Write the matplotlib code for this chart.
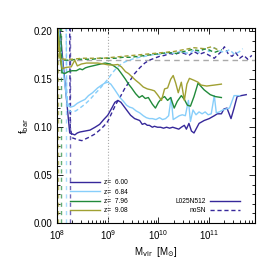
import numpy as np
import matplotlib
matplotlib.use('Agg')
from matplotlib import pyplot as plt
from matplotlib.ticker import LogLocator, MultipleLocator, NullFormatter

plt.rcParams['font.family'] = ['Liberation Sans', 'DejaVu Sans']

# colours per redshift
colors = ['#36289a', '#87cefa', '#218a3a', '#a0a032']
labels = ['z=  6.00', 'z=  6.84', 'z=  7.96', 'z=  9.08']
mlim = [8.25, 8.18, 8.07, 8.02]   # log10 resolution limits (vertical dashed)

# L025N512 (solid): log10(Mvir), f_bar
m_z6 = [8.05, 8.15, 8.25, 8.30, 8.35, 8.40, 8.45, 8.55, 8.65, 8.75, 8.84, 8.92, 9.00, 9.08, 9.14,
        9.20, 9.26, 9.33, 9.40, 9.45, 9.53, 9.58, 9.63, 9.68, 9.73, 9.78, 9.82, 9.88, 9.92, 9.98,
        10.04, 10.10, 10.16, 10.22, 10.28, 10.34, 10.40, 10.45, 10.51, 10.55, 10.60, 10.65, 10.70,
        10.75, 10.80, 10.90, 11.00, 11.10, 11.16, 11.24, 11.29, 11.35, 11.43, 11.49, 11.55, 11.63, 11.73]
f_z6 = [0.205, 0.150, 0.094, 0.093, 0.092, 0.094, 0.095, 0.096, 0.097, 0.100, 0.103, 0.108, 0.1125,
        0.120, 0.126, 0.128, 0.126, 0.121, 0.116, 0.1125, 0.109, 0.108, 0.107, 0.103, 0.104, 0.102,
        0.102, 0.100, 0.101, 0.100, 0.100, 0.099, 0.100, 0.099, 0.100, 0.099, 0.098, 0.100, 0.102,
        0.098, 0.104, 0.096, 0.094, 0.099, 0.104, 0.107, 0.109, 0.112, 0.114, 0.114, 0.119, 0.120,
        0.109, 0.120, 0.132, 0.133, 0.134]

m_z7 = [8.03, 8.12, 8.20, 8.27, 8.33, 8.40, 8.47, 8.55, 8.62, 8.70, 8.80, 8.88, 8.94, 9.00, 9.06,
        9.14, 9.24, 9.31, 9.37, 9.43, 9.49, 9.56, 9.63, 9.70, 9.76, 9.82, 9.88, 9.95, 10.02, 10.08,
        10.14, 10.20, 10.25, 10.29, 10.35, 10.41, 10.47, 10.53, 10.59, 10.63, 10.68, 10.74, 10.80,
        10.86, 10.92, 10.98, 11.04, 11.10, 11.14, 11.20, 11.27, 11.33, 11.40, 11.49, 11.60]
f_z7 = [0.205, 0.160, 0.125, 0.121, 0.122, 0.125, 0.127, 0.129, 0.133, 0.136, 0.141, 0.144, 0.146,
        0.147, 0.145, 0.139, 0.131, 0.127, 0.123, 0.121, 0.120, 0.117, 0.115, 0.112, 0.110, 0.109,
        0.109, 0.108, 0.110, 0.108, 0.109, 0.112, 0.131, 0.108, 0.110, 0.112, 0.113, 0.112, 0.128,
        0.106, 0.118, 0.113, 0.116, 0.114, 0.116, 0.113, 0.114, 0.133, 0.115, 0.116, 0.118, 0.119,
        0.120, 0.133, 0.133]

m_z8 = [8.02, 8.06, 8.10, 8.15, 8.22, 8.30, 8.38, 8.45, 8.50, 8.56, 8.62, 8.70, 8.78, 8.86, 8.95,
        9.05, 9.12, 9.20, 9.27, 9.35, 9.41, 9.47, 9.55, 9.62, 9.68, 9.74, 9.80, 9.88, 9.94, 10.00,
        10.06, 10.12, 10.18, 10.24, 10.31, 10.37, 10.45, 10.51, 10.57, 10.63, 10.70, 10.78, 10.90,
        11.02, 11.12, 11.24]
f_z8 = [0.205, 0.175, 0.157, 0.156, 0.158, 0.159, 0.159, 0.161, 0.160, 0.162, 0.163, 0.164, 0.165,
        0.166, 0.167, 0.166, 0.164, 0.161, 0.156, 0.150, 0.145, 0.141, 0.135, 0.131, 0.133, 0.130,
        0.131, 0.124, 0.120, 0.126, 0.130, 0.132, 0.128, 0.131, 0.120, 0.127, 0.133, 0.129, 0.123,
        0.122, 0.132, 0.146, 0.139, 0.134, 0.132, 0.131]

m_z9 = [8.01, 8.05, 8.10, 8.18, 8.28, 8.35, 8.40, 8.48, 8.58, 8.68, 8.80, 8.92, 9.02, 9.12, 9.20,
        9.27, 9.35, 9.41, 9.47, 9.55, 9.62, 9.70, 9.78, 9.86, 9.92, 9.98, 10.06, 10.12, 10.18, 10.24,
        10.29, 10.34, 10.39, 10.45, 10.51, 10.56, 10.61, 10.70, 10.78, 10.84, 10.95, 11.10, 11.24]
f_z9 = [0.205, 0.180, 0.161, 0.1625, 0.163, 0.170, 0.164, 0.166, 0.167, 0.167, 0.167, 0.166, 0.165,
        0.165, 0.1655, 0.163, 0.158, 0.156, 0.153, 0.149, 0.146, 0.142, 0.140, 0.139, 0.138, 0.134,
        0.128, 0.140, 0.141, 0.150, 0.154, 0.146, 0.136, 0.147, 0.128, 0.145, 0.151, 0.149, 0.147,
        0.144, 0.143, 0.144, 0.145]

# noSN (dashed)
mn_z6 = [8.25, 8.26, 8.30, 8.40, 8.49, 8.57, 8.65, 8.75, 8.84, 8.92, 9.00, 9.08, 9.16, 9.24, 9.33,
         9.43, 9.53, 9.63, 9.73, 9.82, 9.92, 10.02, 10.12, 10.22, 10.32, 10.42, 10.51, 10.60, 10.70,
         10.80, 10.90, 11.00, 11.10, 11.16, 11.24, 11.30, 11.38, 11.45, 11.52, 11.60, 11.68, 11.76, 11.84]
fn_z6 = [0.205, 0.100, 0.089, 0.087, 0.086, 0.088, 0.090, 0.093, 0.097, 0.101, 0.106, 0.115, 0.124,
         0.131, 0.140, 0.148, 0.156, 0.162, 0.167, 0.170, 0.172, 0.174, 0.175, 0.177, 0.176, 0.178,
         0.177, 0.175, 0.179, 0.176, 0.178, 0.175, 0.172, 0.175, 0.179, 0.184, 0.176, 0.174, 0.178,
         0.172, 0.175, 0.171, 0.175]

mn_z7 = [8.18, 8.19, 8.22, 8.29, 8.37, 8.45, 8.55, 8.65, 8.75, 8.84, 8.92, 9.00, 9.08, 9.16, 9.24,
         9.33, 9.43, 9.53, 9.63, 9.73, 9.82, 9.92, 10.02, 10.12, 10.22, 10.32, 10.42, 10.51, 10.61,
         10.71, 10.80, 10.90, 11.00, 11.10, 11.20, 11.30, 11.40, 11.50, 11.60, 11.66]
fn_z7 = [0.205, 0.140, 0.118, 0.116, 0.117, 0.120, 0.124, 0.129, 0.135, 0.140, 0.145, 0.150, 0.156,
         0.161, 0.165, 0.168, 0.170, 0.172, 0.173, 0.174, 0.175, 0.176, 0.176, 0.177, 0.178, 0.177,
         0.179, 0.178, 0.177, 0.181, 0.178, 0.182, 0.179, 0.183, 0.180, 0.178, 0.181, 0.176, 0.179, 0.182]

mn_z8 = [8.07, 8.09, 8.15, 8.25, 8.40, 8.55, 8.70, 8.85, 9.00, 9.15, 9.30, 9.45, 9.60, 9.75, 9.90,
         10.05, 10.20, 10.35, 10.50, 10.65, 10.80, 10.95, 11.10, 11.25]
fn_z8 = [0.205, 0.172, 0.170, 0.170, 0.171, 0.171, 0.171, 0.172, 0.172, 0.172, 0.173, 0.173, 0.174,
         0.175, 0.176, 0.177, 0.178, 0.177, 0.179, 0.181, 0.180, 0.182, 0.178, 0.181]

mn_z9 = [8.02, 8.04, 8.15, 8.30, 8.50, 8.70, 8.90, 9.10, 9.30, 9.50, 9.70, 9.90, 10.10, 10.30, 10.50,
         10.70, 10.90, 11.05, 11.20]
fn_z9 = [0.205, 0.172, 0.171, 0.171, 0.172, 0.172, 0.172, 0.173, 0.174, 0.175, 0.176, 0.177, 0.178,
         0.179, 0.181, 0.183, 0.182, 0.184, 0.180]

solid = [(m_z6, f_z6), (m_z7, f_z7), (m_z8, f_z8), (m_z9, f_z9)]
dashed = [(mn_z6, fn_z6), (mn_z7, fn_z7), (mn_z8, fn_z8), (mn_z9, fn_z9)]

fig = plt.figure(figsize=(2.64, 2.70), dpi=100)
ax = fig.add_axes([0.216, 0.174, 0.75, 0.722])

ax.axhline(0.17, color='#aaaaaa', ls=(0, (4, 3)), lw=1.0)
ax.axvline(1e9, color='#aaaaaa', ls=':', lw=0.8)

lines = []
for i in range(4):
    ax.axvline(10**mlim[i], color=colors[i], ls=(0, (3, 3)), lw=1.0, alpha=0.7)
    l, = ax.plot(10**np.array(solid[i][0]), solid[i][1], color=colors[i], lw=1.0, label=labels[i])
    ax.plot(10**np.array(dashed[i][0]), dashed[i][1], color=colors[i], lw=1.0, ls=(0, (3, 2)))
    lines.append(l)

ax.set_xscale('log')
ax.set_xlim(1e8, 8e11)
ax.set_ylim(0, 0.2035)
ax.yaxis.set_major_locator(MultipleLocator(0.05))
ax.yaxis.set_minor_locator(MultipleLocator(0.01))
ax.xaxis.set_major_locator(LogLocator(base=10, numticks=10))
ax.xaxis.set_minor_locator(LogLocator(base=10, subs=np.arange(2, 10), numticks=20))
ax.xaxis.set_minor_formatter(NullFormatter())
ax.yaxis.set_major_formatter(matplotlib.ticker.FormatStrFormatter('%.2f'))
ax.tick_params(which='both', direction='in', top=True, right=True, labelsize=7, width=0.6)
ax.tick_params(which='major', length=4)
ax.tick_params(which='minor', length=2)
ax.tick_params(axis='x', pad=4)
for s in ax.spines.values():
    s.set_linewidth(0.8)

ax.set_xlabel(r'M$_{\rm vir}$  [M$_{\odot}$]', fontsize=7, labelpad=2)
ax.set_ylabel(r'f$_{\rm bar}$', fontsize=7, labelpad=2)

leg1 = ax.legend(handles=lines, loc='lower left', bbox_to_anchor=(0.04, 0.02), frameon=False,
                 fontsize=4.8, handlelength=4.6, labelspacing=0.35, handletextpad=0.6, borderpad=0.2)
ax.add_artist(leg1)
h1, = ax.plot([], [], color=colors[0], lw=1.0)
h2, = ax.plot([], [], color=colors[0], lw=1.0, ls=(0, (3, 2)))
ax.legend([h1, h2], ['L025N512', 'noSN'], loc='lower right', bbox_to_anchor=(0.95, 0.02),
          frameon=False, fontsize=4.8, handlelength=4.6, labelspacing=0.35, handletextpad=0.6,
          markerfirst=False, borderpad=0.2)

fig.savefig('out.png', dpi=100)
